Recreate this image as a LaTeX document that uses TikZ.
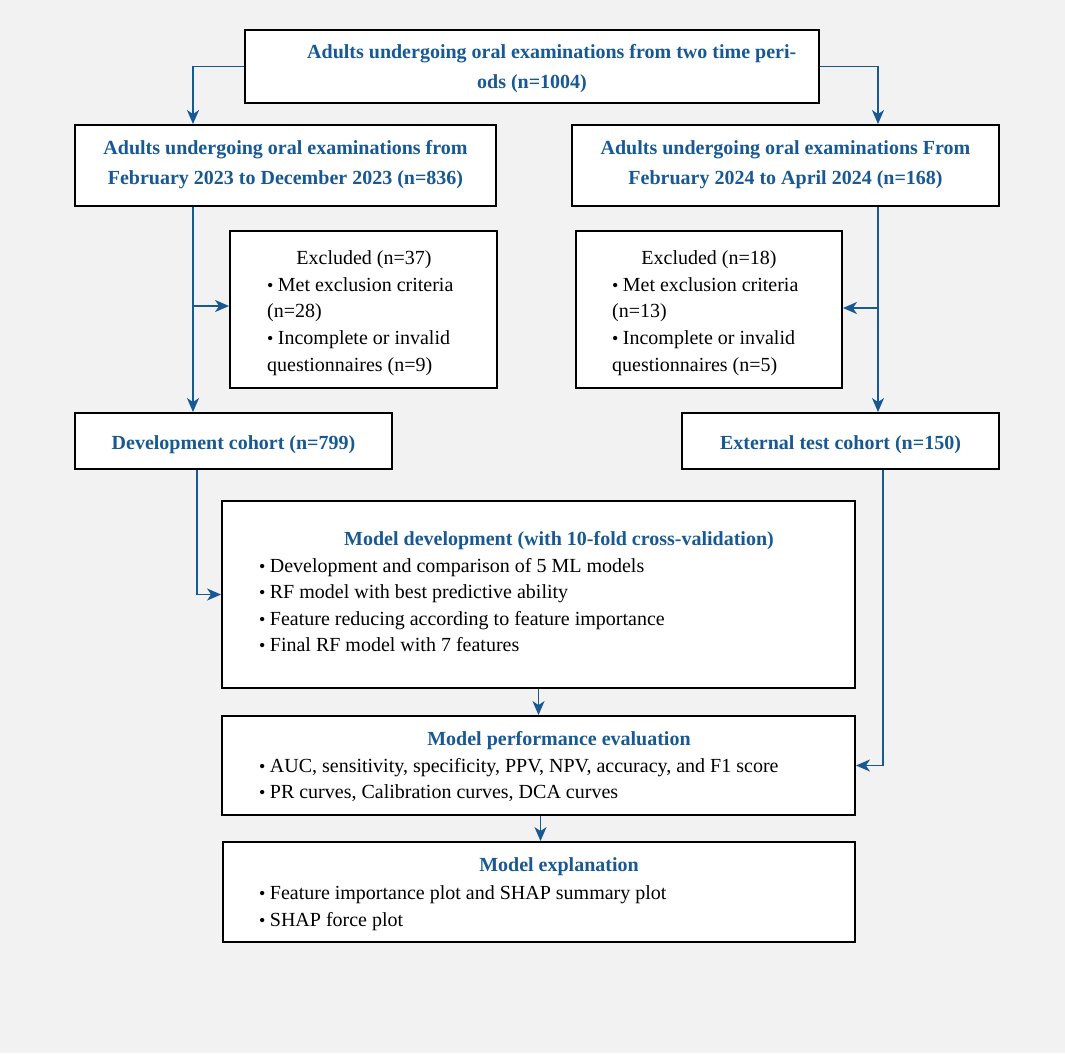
\documentclass[tikz,border=0pt]{standalone}
\usepackage{fontspec}
\setmainfont{Liberation Serif}
\usetikzlibrary{arrows.meta}
\definecolor{myblue}{RGB}{24,89,148}
\definecolor{bggray}{RGB}{242,242,242}
\tikzset{
  box/.style={draw=black, line width=1.9pt, fill=white, inner sep=0pt},
  ttl/.style={anchor=base, inner sep=0pt, text=myblue, font=\fontsize{20}{24}\selectfont\bfseries},
  ctr/.style={anchor=base, inner sep=0pt, font=\fontsize{20}{24}\selectfont},
  lft/.style={anchor=base west, inner sep=0pt, font=\fontsize{20}{24}\selectfont},
  arr/.style={draw=myblue, line width=1.7pt, -{Stealth[length=14pt,width=12pt,inset=4pt]}},
}
\newcommand{\bul}{{\fontsize{18}{18}\selectfont\textbullet}\hspace{0.22em}}
\begin{document}
\begin{tikzpicture}[x=1pt,y=-1pt]
\fill[bggray] (0,0) rectangle (1065,1053);
\useasboundingbox (0,0) rectangle (1065,1053);

% boxes
\node[box, minimum width=574, minimum height=73] (top) at (532,66.5) {};
\node[box, minimum width=421, minimum height=81] (L2) at (285.5,165.5) {};
\node[box, minimum width=427, minimum height=81] (R2) at (785.5,165.5) {};
\node[box, minimum width=267, minimum height=157] (exL) at (363.5,309.5) {};
\node[box, minimum width=266, minimum height=157] (exR) at (709,309.5) {};
\node[box, minimum width=317, minimum height=56] (dev) at (233.5,441) {};
\node[box, minimum width=317, minimum height=56] (ext) at (840.5,441) {};
\node[box, minimum width=633, minimum height=187] (md) at (538.5,594.5) {};
\node[box, minimum width=633, minimum height=99] (mp) at (538.5,765.5) {};
\node[box, minimum width=632, minimum height=100] (me) at (539,892) {};

% texts
\node[ttl, anchor=base west] (t1a) at (307,58) {Adults undergoing oral examinations from two time peri-};
\node[ttl] (t1b) at (532,88) {ods (n=1004)};
\node[ttl] (t2a) at (285.5,154) {Adults undergoing oral examinations from};
\node[ttl] (t2b) at (285.5,184) {February 2023 to December 2023 (n=836)};
\node[ttl] (t3a) at (785.5,154) {Adults undergoing oral examinations From};
\node[ttl] (t3b) at (785.5,184) {February 2024 to April 2024 (n=168)};

\node[ctr] (e1) at (364,264) {Excluded (n=37)};
\node[lft] (e2) at (267,291) {\bul Met exclusion criteria};
\node[lft] (e3) at (267,317) {(n=28)};
\node[lft] (e4) at (267,344) {\bul Incomplete or invalid};
\node[lft] (e5) at (267,371) {questionnaires (n=9)};

\node[ctr] (f1) at (709,264) {Excluded (n=18)};
\node[lft] (f2) at (612,291) {\bul Met exclusion criteria};
\node[lft] (f3) at (612,317) {(n=13)};
\node[lft] (f4) at (612,344) {\bul Incomplete or invalid};
\node[lft] (f5) at (612,371) {questionnaires (n=5)};

\node[ttl] (dv) at (233.5,449) {Development cohort (n=799)};
\node[ttl] (et) at (840.5,449) {External test cohort (n=150)};

\node[ttl] (m0) at (559,545) {Model development (with 10-fold cross-validation)};
\node[lft] (m1) at (259,572) {\bul Development and comparison of 5 ML models};
\node[lft] (m2) at (259,598) {\bul RF model with best predictive ability};
\node[lft] (m3) at (259,625) {\bul Feature reducing according to feature importance};
\node[lft] (m4) at (259,651) {\bul Final RF model with 7 features};

\node[ttl] (p0) at (559,745) {Model performance evaluation};
\node[lft] (p1) at (259,772) {\bul AUC, sensitivity, specificity, PPV, NPV, accuracy, and F1 score};
\node[lft] (p2) at (259,798) {\bul PR curves, Calibration curves, DCA curves};

\node[ttl] (x0) at (559,871) {Model explanation};
\node[lft] (x1) at (259,899) {\bul Feature importance plot and SHAP summary plot};
\node[lft] (x2) at (259,926) {\bul SHAP force plot};

% connectors
\draw[arr] (top.west) -| ([xshift=-92.5pt]L2.north);
\draw[arr] (top.east) -| ([xshift=92.5pt]R2.north);
\draw[arr] ([xshift=-92.5pt]L2.south) -- ([xshift=-40.5pt]dev.north);
\coordinate (bL) at (193,306);
\draw[arr] (bL) -- (bL -| exL.west);
\draw[arr] ([xshift=92.5pt]R2.south) -- ([xshift=37.5pt]ext.north);
\coordinate (bR) at (878,308);
\draw[arr] (bR) -- (bR -| exR.east);
\draw[arr] ([xshift=-36.5pt]dev.south) |- (md.west);
\draw[arr] (md.south) -- (mp.north);
\draw[arr] ([xshift=42.5pt]ext.south) |- (mp.east);
\draw[arr] ([xshift=2pt]mp.south) -- ([xshift=2pt]mp.south |- me.north);
\end{tikzpicture}
\end{document}
